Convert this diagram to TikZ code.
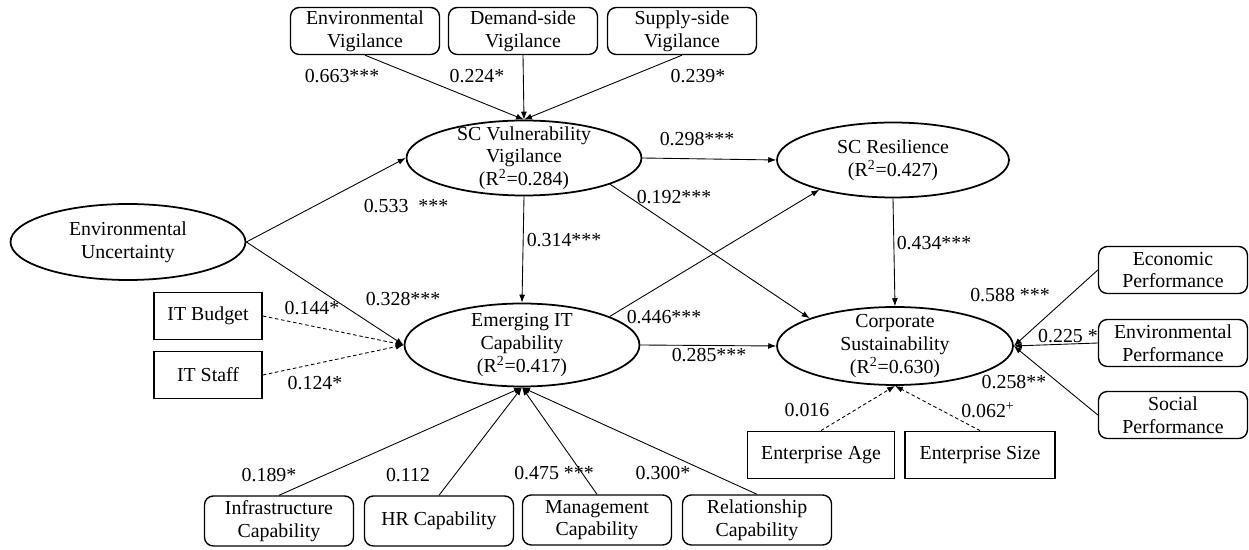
\documentclass[tikz,border=0pt]{standalone}
\usepackage{fontspec}
\setmainfont{Liberation Serif}
\usetikzlibrary{positioning, shapes.geometric, arrows.meta}

\begin{document}
\begin{tikzpicture}[
        x=0.02cm, y=-0.02cm,
        font=\fontsize{11.3}{12.9}\selectfont,
        latent/.style={ellipse, draw, line width=1pt, inner sep=0pt, minimum width=4.7cm, minimum height=1.5cm},
        indicator/.style={rectangle, rounded corners=5pt, draw, line width=0.8pt, minimum width=2.98cm, minimum height=0.94cm, inner sep=1pt, align=center},
        control/.style={rectangle, draw, line width=1pt, minimum height=0.94cm, inner sep=1pt, align=center},
        coef/.style={inner sep=0pt},
        link/.style={-{Latex[length=4.5pt, width=3.4pt]}, line width=0.5pt},
        dlink/.style={link, dash pattern=on 2pt off 1.5pt}
    ]
        \useasboundingbox (0,0) rectangle (1249,550);

        % Nodes
        \node [indicator] (envvig) at (365,31) {Environmental\\Vigilance};
        \node [indicator] (demvig) at (523,31) {Demand-side\\Vigilance};
        \node [indicator] (supvig) at (682,31) {Supply-side\\Vigilance};

        \node [latent, label={[align=center]center:{SC Vulnerability\\Vigilance\\(R\textsuperscript{2}=0.284)}}] (scvv) at (524,158) {};
        \node [latent, minimum width=4.64cm, label={[align=center]center:{SC Resilience\\(R\textsuperscript{2}=0.427)}}] (scr) at (893,160) {};
        \node [latent, minimum height=1.52cm, label={[align=center]center:{Environmental\\Uncertainty}}] (envunc) at (128,242) {};
        \node [latent, minimum height=1.66cm, label={[align=center]center:{Emerging IT\\Capability\\(R\textsuperscript{2}=0.417)}}] (eitc) at (522,345) {};
        \node [latent, minimum width=4.72cm, minimum height=1.56cm, label={[align=center]center:{Corporate\\Sustainability\\(R\textsuperscript{2}=0.630)}}] (cs) at (895,346) {};

        \node [control, minimum width=2.16cm] (itbudget) at (208,316) {IT Budget};
        \node [control, minimum width=2.16cm] (itstaff) at (208,375) {IT Staff};
        \node [control, minimum width=2.94cm] (entage) at (821,455) {Enterprise Age};
        \node [control, minimum width=3cm] (entsize) at (980,455) {Enterprise Size};

        \node [indicator] (econ) at (1173,270) {Economic\\Performance};
        \node [indicator] (envperf) at (1173,343) {Environmental\\Performance};
        \node [indicator] (social) at (1173,415) {Social\\Performance};

        \node [indicator, minimum height=1cm] (infra) at (279,521) {Infrastructure\\Capability};
        \node [indicator, minimum height=1cm] (hr) at (439,521) {HR Capability};
        \node [indicator, minimum height=1cm] (mgmt) at (597,520) {Management\\Capability};
        \node [indicator, minimum height=1cm] (rel) at (757,520) {Relationship\\Capability};

        % Coefficients
        \node [coef] (c-envvig) at (342,76) {0.663***};
        \node [coef] (c-demvig) at (477,76) {0.224*};
        \node [coef] (c-supvig) at (698,76) {0.239*};
        \node [coef] (c-scr) at (697,139) {0.298***};
        \node [coef] (c-sccs) at (674,197) {0.192***};
        \node [coef] (c-unc1) at (406,206) {0.533 \ ***};
        \node [coef] (c-vvit) at (564,240) {0.314***};
        \node [coef] (c-unc2) at (403,299) {0.328***};
        \node [coef] (c-budget) at (312,308) {0.144*};
        \node [coef] (c-staff) at (315,383) {0.124*};
        \node [coef] (c-itscr) at (664,317) {0.446***};
        \node [coef] (c-itcs) at (709,355) {0.285***};
        \node [coef] (c-scrcs) at (934,243) {0.434***};
        \node [coef] (c-econ) at (1010,295) {0.588 ***};
        \node [coef] (c-envperf) at (1068,336) {0.225 *};
        \node [coef] (c-social) at (1014,382) {0.258**};
        \node [coef] (c-age) at (807,410) {0.016};
        \node [coef] (c-size) at (988,410) {0.062\textsuperscript{+}};
        \node [coef] (c-infra) at (269,475) {0.189*};
        \node [coef] (c-hr) at (408,475) {0.112};
        \node [coef] (c-mgmt) at (554,473) {0.475 ***};
        \node [coef] (c-rel) at (663,473) {0.300*};

        % Edges
        \draw [link] (envvig.south) -- (scvv.north);
        \draw [link] (demvig.south) -- (scvv.north);
        \draw [link] (supvig.south) -- (scvv.north);

        \draw [link] (envunc.east) -- (scvv.west);
        \draw [link] (envunc.east) -- (eitc.west);
        \draw [dlink] (itbudget.east) -- (eitc.west);
        \draw [dlink] (itstaff.east) -- (eitc.west);

        \draw [link] (scvv.south) -- (eitc.north);
        \draw [link] (scvv.east) -- (scr.west);
        \draw [link] (scvv.-17) -- (cs.162);
        \draw [link] (eitc.18) -- (scr.-158);
        \draw [link] (eitc.east) -- (cs.west);
        \draw [link] (scr.south) -- (cs.north);

        \draw [link] (econ.west) -- (cs.east);
        \draw [link] (envperf.west) -- (cs.east);
        \draw [link] (social.west) -- (cs.east);
        \draw [dlink] (entage.north) -- (cs.south);
        \draw [dlink] (entsize.north) -- (cs.south);

        \draw [link] (infra.north) -- (eitc.south);
        \draw [link] (hr.north) -- (eitc.south);
        \draw [link] (mgmt.north) -- (eitc.south);
        \draw [link] (rel.north) -- (eitc.south);

    \end{tikzpicture}
\end{document}
